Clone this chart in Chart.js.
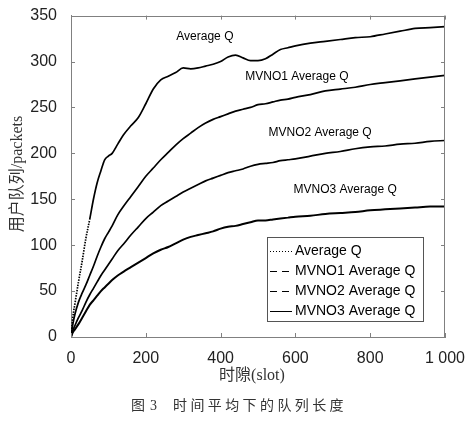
<!DOCTYPE html>
<html>
<head>
<meta charset="utf-8">
<script src="https://cdn.jsdelivr.net/npm/chart.js@4.4.0/dist/chart.umd.min.js"></script>
<style>
  body { margin: 0; background: #fff; }
  canvas { display: block; }
</style>
</head>
<body>
<canvas id="myChart" width="473" height="421"></canvas>
<script>
// data
const slots = [0, 5, 10, 20, 30, 40, 50, 60, 70, 80, 90, 100, 110, 125, 140, 160, 180, 200, 220, 240,
  260, 280, 300, 320, 340, 360, 380, 400, 420, 440, 460, 480, 500, 520, 540, 560, 580, 600,
  640, 680, 720, 760, 800, 840, 880, 920, 960, 1000]
const avgQ = [0, 22, 35, 60, 83, 108, 128, 150, 168, 181, 193, 197, 200, 210, 220, 230, 239, 254, 270, 280,
  284, 288, 293, 292, 293, 295, 297, 300, 305, 307, 304, 301, 301, 303, 308, 313, 315, 317,
  320, 322, 324, 326, 327, 330, 333, 336, 337, 338]
const mvno1Q = [0, 14, 24, 38, 48, 57, 67, 77, 88, 98, 107, 114, 121, 133, 142, 153, 164, 175, 184, 193,
  201, 209, 216, 222, 228, 233, 237, 240, 243, 246, 248, 250, 253, 254, 256, 258, 259, 261,
  264, 268, 270, 272, 275, 277, 279, 281, 283, 285]
const mvno2Q = [0, 7, 12, 21, 29, 38, 46, 53, 60, 67, 73, 79, 85, 94, 101, 111, 120, 129, 136, 143,
  148, 153, 158, 162, 166, 170, 173, 176, 179, 181, 183, 186, 188, 189, 190, 192, 193, 194,
  197, 200, 202, 205, 207, 208, 210, 211, 213, 214]
const mvno3Q = [0, 5, 8, 14, 21, 28, 35, 40, 45, 50, 54, 58, 62, 67, 71, 76, 81, 86, 91, 95,
  98, 102, 106, 109, 111, 113, 115, 118, 120, 121, 123, 125, 127, 127, 128, 129, 130, 131,
  132, 134, 135, 136, 138, 139, 140, 141, 142, 142]

const seriesNames = ['Average Q', 'MVNO1 Average Q', 'MVNO2 Average Q', 'MVNO3 Average Q']
const xTickLabels = ['0', '200', '400', '600', '800', '1 000']

// where the curve names sit, in data units (slot, packets)
const curveLabelAt = [[358, 327], [604, 284], [666, 223], [733, 160]]
const legendDash = [[1, 2], [7, 5], [7, 5], []]

const axisColor = '#808080'
const tickFont = {family: '"Liberation Sans", Arial, sans-serif', size: 16}
const serifCJK = '"Liberation Serif", "Noto Sans CJK SC", serif'

const toPoints = (vals) => slots.map((s, i) => ({x: s, y: vals[i]}))

const makeSet = (label, vals, width) => ({
  label: label,
  data: toPoints(vals),
  borderColor: '#000',
  borderWidth: width,
  pointRadius: 0,
  cubicInterpolationMode: 'monotone',
  fill: false
})

const data = {
  datasets: [
    makeSet(seriesNames[0], avgQ, 1.7),
    makeSet(seriesNames[1], mvno1Q, 1.7),
    makeSet(seriesNames[2], mvno2Q, 1.7),
    makeSet(seriesNames[3], mvno3Q, 2)
  ]
}
// the first stretch of Average Q is dotted in the figure
data.datasets[0].segment = {
  borderDash: ctx => ctx.p0.parsed.x < 50 ? [1.5, 1.2] : undefined
}

// box, inward ticks, titles, caption
const framePlugin = {
  id: 'frame',
  afterDraw(chart) {
    const {ctx, chartArea: a, scales: {x, y}} = chart
    ctx.save()
    ctx.strokeStyle = axisColor
    ctx.lineWidth = 1
    ctx.beginPath()
    ctx.moveTo(a.left, Math.round(a.top) + 0.5)
    ctx.lineTo(a.right, Math.round(a.top) + 0.5)
    ctx.moveTo(Math.round(a.right) - 0.5, a.top)
    ctx.lineTo(Math.round(a.right) - 0.5, a.bottom)
    x.ticks.forEach(t => {
      const px = Math.round(x.getPixelForValue(t.value)) + 0.5
      ctx.moveTo(px, a.bottom); ctx.lineTo(px, a.bottom - 4)
      ctx.moveTo(px, a.top); ctx.lineTo(px, a.top + 4)
    })
    y.ticks.forEach(t => {
      const py = Math.round(y.getPixelForValue(t.value)) + 0.5
      ctx.moveTo(a.left, py); ctx.lineTo(a.left + 4, py)
      ctx.moveTo(a.right, py); ctx.lineTo(a.right - 4, py)
    })
    ctx.stroke()

    // axis titles
    ctx.fillStyle = '#333'
    ctx.font = '16px ' + serifCJK
    ctx.textAlign = 'center'
    ctx.textBaseline = 'middle'
    ctx.fillText('时隙(slot)', 252, 376)
    ctx.save()
    ctx.translate(18, 174)
    ctx.rotate(-Math.PI / 2)
    ctx.fillText('用户队列/packets', 0, 0)
    ctx.restore()

    // caption, spaced out like the print
    ctx.font = '14px ' + serifCJK
    ctx.textAlign = 'left'
    ctx.fillText('图', 131, 406)
    ctx.fillText('3', 150, 406)
    const cap = '时间平均下的队列长度'
    for (let i = 0; i < cap.length; i++) {
      ctx.fillText(cap[i], 173 + i * 17.4, 406)
    }
    ctx.restore()
  }
}

// names written next to the curves
const curveLabels = {
  id: 'curveLabels',
  afterDatasetsDraw(chart) {
    const {ctx, scales: {x, y}} = chart
    ctx.save()
    ctx.fillStyle = '#000'
    ctx.font = '12px "Liberation Sans", Arial, sans-serif'
    ctx.textAlign = 'center'
    ctx.textBaseline = 'middle'
    curveLabelAt.forEach((p, i) => {
      ctx.fillText(seriesNames[i], x.getPixelForValue(p[0]), y.getPixelForValue(p[1]))
    })
    ctx.restore()
  }
}

// boxed legend inside the plot, lower right
const boxLegend = {
  id: 'boxLegend',
  afterDraw(chart) {
    const {ctx} = chart
    const left = 267, top = 237, w = 156, h = 84
    ctx.save()
    ctx.fillStyle = '#fff'
    ctx.fillRect(left, top, w, h)
    ctx.strokeStyle = '#555'
    ctx.lineWidth = 1
    ctx.strokeRect(left + 0.5, top + 0.5, w, h)
    ctx.font = '14px "Liberation Sans", Arial, sans-serif'
    ctx.textBaseline = 'middle'
    ctx.textAlign = 'left'
    chart.data.datasets.forEach((ds, i) => {
      const yy = top + 14 + i * 20
      ctx.beginPath()
      ctx.setLineDash(legendDash[i])
      ctx.strokeStyle = '#000'
      ctx.lineWidth = 1
      ctx.moveTo(left + 3, yy + 0.5)
      ctx.lineTo(left + 25, yy + 0.5)
      ctx.stroke()
      ctx.setLineDash([])
      ctx.fillStyle = '#000'
      ctx.fillText(ds.label, left + 28, yy)
    })
    ctx.restore()
  }
}

const config = {
  type: 'line',
  data,
  options: {
    responsive: false,
    animation: false,
    layout: {
      padding: {left: 0, top: 14, right: 28, bottom: 0}
    },
    scales: {
      x: {
        type: 'linear',
        min: 0,
        max: 1000,
        grid: {display: false},
        border: {display: true, color: axisColor},
        ticks: {
          stepSize: 200,
          padding: 4,
          color: '#222',
          font: tickFont,
          maxRotation: 0,
          callback: (v, i) => xTickLabels[i]
        },
        afterFit: (scale) => { scale.height = 84 }
      },
      y: {
        type: 'linear',
        min: 0,
        max: 350,
        grid: {display: false},
        border: {display: true, color: axisColor},
        ticks: {
          stepSize: 50,
          padding: 6,
          color: '#222',
          font: tickFont
        },
        afterFit: (scale) => { scale.width = 71 }
      }
    },
    plugins: {
      legend: {display: false},
      tooltip: {enabled: false}
    }
  },
  plugins: [curveLabels, framePlugin, boxLegend]
}

const myChart = new Chart(document.getElementById('myChart'), config)
</script>
</body>
</html>
